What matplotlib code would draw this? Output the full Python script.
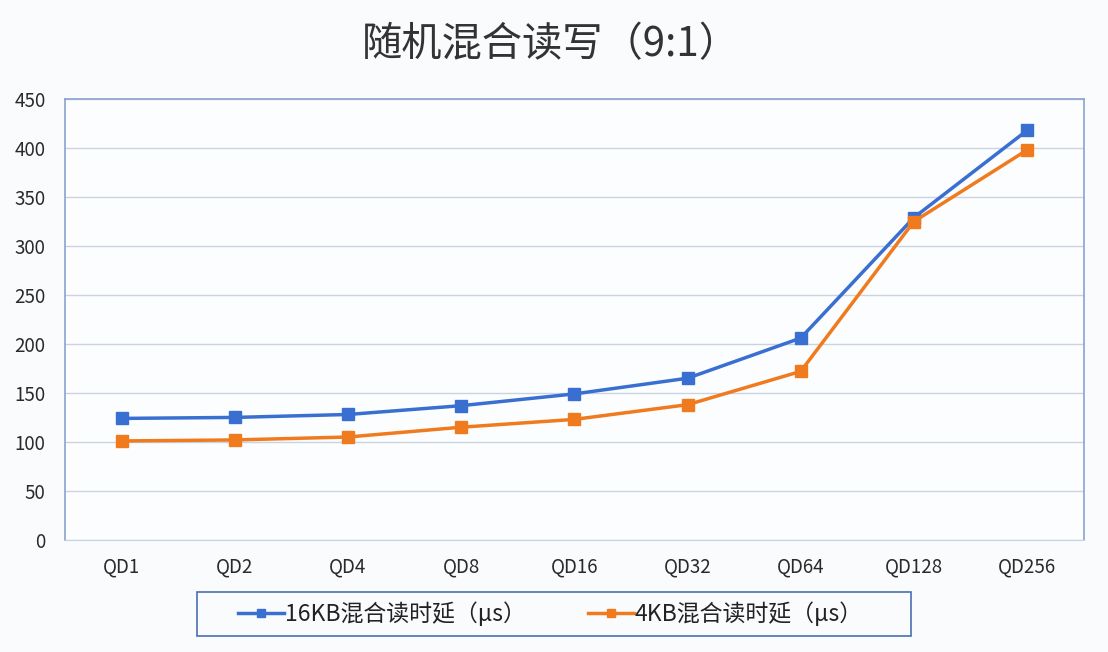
import matplotlib.pyplot as plt
from matplotlib.patches import Rectangle

plt.rcParams['font.family'] = ['Noto Sans CJK SC', 'DejaVu Sans']

categories = ['QD1', 'QD2', 'QD4', 'QD8', 'QD16', 'QD32', 'QD64', 'QD128', 'QD256']
lat_16k = [124, 125, 128, 137, 149, 165, 206, 329, 418]
lat_4k = [101, 102, 105, 115, 123, 138, 172, 325, 398]
yticks = list(range(0, 451, 50))

fig = plt.figure(figsize=(11.08, 6.52), dpi=100, facecolor='#fafbfd')
ax = fig.add_axes([0.0587, 0.172, 0.9193, 0.676])
ax.set_facecolor('#fcfdfe')

x = range(len(categories))
ax.plot(x, lat_16k, color='#3a6fd2', lw=2.5, marker='s', ms=8, label='16KB混合读时延（μs）', zorder=3)
ax.plot(x, lat_4k, color='#f07b1f', lw=2.5, marker='s', ms=8, label='4KB混合读时延（μs）', zorder=3)

ax.set_xlim(-0.5, len(categories) - 0.5)
ax.set_ylim(0, 450)
ax.set_yticks(yticks)
ax.set_xticks(list(x))
ax.set_xticklabels(categories)
ax.grid(axis='y', color='#c9d4e3', lw=1)
ax.set_axisbelow(True)
ax.tick_params(length=0, labelsize=13.5, colors='#2a2a2a')
ax.tick_params(axis='x', pad=12)
ax.tick_params(axis='y', pad=14)
for side in ['left', 'top', 'right']:
    ax.spines[side].set_color('#8aa3cf')
    ax.spines[side].set_linewidth(1.2)
ax.spines['bottom'].set_color('#c9d4e3')

fig.text(0.4975, 0.931, '随机混合读写（9:1）', ha='center', va='center', fontsize=29, color='#333333')

# legend box
fig.add_artist(Rectangle((197 / 1108, 0.0245), 714 / 1108, 0.0675, transform=fig.transFigure,
                         fill=False, edgecolor='#4a6fb0', lw=1.2))
leg = fig.legend(loc='center', bbox_to_anchor=(0.497, 0.0583), ncol=2, fontsize=16.5,
                 frameon=False, handlelength=2.0, handletextpad=0.05,
                 columnspacing=2.7, markerscale=0.75)
for t in leg.get_texts():
    t.set_color('#222222')

fig.savefig('out.png', dpi=100, facecolor=fig.get_facecolor())
